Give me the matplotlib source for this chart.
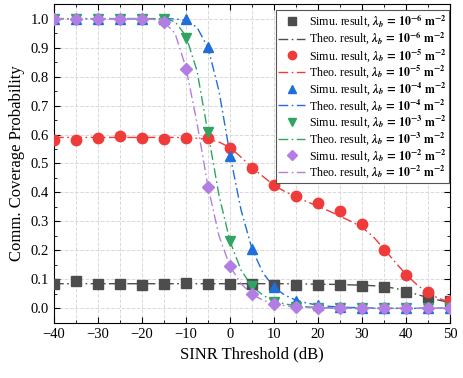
import numpy as np
import matplotlib
matplotlib.use("Agg")
import matplotlib.pyplot as plt
from matplotlib.ticker import MultipleLocator

plt.rcParams['font.family'] = ['Liberation Serif', 'DejaVu Serif']
plt.rcParams['mathtext.fontset'] = 'stix'

# simulation points (every 5 dB)
x_sim = [-40, -35, -30, -25, -20, -15, -10, -5, 0, 5, 10, 15, 20, 25, 30, 35, 40, 45, 50]
sim_e6 = [0.083, 0.093, 0.085, 0.083, 0.080, 0.084, 0.089, 0.084, 0.083, 0.083, 0.082, 0.082,
          0.080, 0.080, 0.077, 0.075, 0.057, 0.038, 0.025]
sim_e5 = [0.582, 0.580, 0.588, 0.595, 0.588, 0.584, 0.589, 0.588, 0.553, 0.486, 0.425, 0.387,
          0.365, 0.335, 0.290, 0.203, 0.115, 0.058, 0.025]
sim_e4 = [1.0, 1.0, 1.0, 1.0, 1.0, 1.0, 0.998, 0.902, 0.527, 0.206, 0.074, 0.025,
          0.012, 0.004, 0.0, 0.0, 0.0, 0.0, 0.0]
sim_e3 = [1.0, 1.0, 1.0, 1.0, 1.0, 1.0, 0.933, 0.609, 0.232, 0.076, 0.022, 0.006,
          0.0, 0.0, 0.0, 0.0, 0.0, 0.0, 0.0]
sim_e2 = [1.0, 1.0, 1.0, 1.0, 1.0, 0.988, 0.827, 0.419, 0.145, 0.048, 0.016, 0.004,
          0.0, 0.0, 0.0, 0.0, 0.0, 0.0, 0.0]

# theoretical curves (every 2.5 dB)
x_theo = [-40, -37.5, -35, -32.5, -30, -27.5, -25, -22.5, -20, -17.5, -15, -12.5, -10, -7.5,
          -5, -2.5, 0, 2.5, 5, 7.5, 10, 12.5, 15, 17.5, 20, 22.5, 25, 27.5, 30, 32.5, 35,
          37.5, 40, 42.5, 45, 47.5, 50]
theo_e6 = [0.085, 0.085, 0.085, 0.085, 0.085, 0.085, 0.085, 0.085, 0.085, 0.085, 0.085, 0.085,
           0.085, 0.085, 0.085, 0.085, 0.085, 0.085, 0.085, 0.085, 0.085, 0.085, 0.084, 0.084,
           0.083, 0.083, 0.082, 0.081, 0.080, 0.078, 0.075, 0.069, 0.060, 0.048, 0.037, 0.028, 0.020]
theo_e5 = [0.590, 0.590, 0.590, 0.590, 0.590, 0.590, 0.590, 0.590, 0.590, 0.590, 0.590, 0.590,
           0.589, 0.587, 0.583, 0.574, 0.555, 0.522, 0.486, 0.455, 0.425, 0.403, 0.385, 0.368,
           0.352, 0.336, 0.318, 0.300, 0.280, 0.248, 0.205, 0.160, 0.117, 0.081, 0.053, 0.034, 0.021]
theo_e4 = [1.0, 1.0, 1.0, 1.0, 1.0, 1.0, 1.0, 1.0, 1.0, 1.0, 1.0, 0.999, 0.994, 0.970,
           0.900, 0.750, 0.530, 0.340, 0.205, 0.122, 0.073, 0.045, 0.028, 0.018, 0.011, 0.007,
           0.004, 0.003, 0.002, 0.001, 0.0, 0.0, 0.0, 0.0, 0.0, 0.0, 0.0]
theo_e3 = [1.0, 1.0, 1.0, 1.0, 1.0, 1.0, 1.0, 1.0, 1.0, 1.0, 0.999, 0.990, 0.940, 0.820,
           0.605, 0.390, 0.232, 0.132, 0.076, 0.045, 0.025, 0.015, 0.009, 0.005, 0.003, 0.002,
           0.001, 0.0, 0.0, 0.0, 0.0, 0.0, 0.0, 0.0, 0.0, 0.0, 0.0]
theo_e2 = [1.0, 1.0, 1.0, 1.0, 1.0, 1.0, 1.0, 1.0, 1.0, 0.998, 0.988, 0.950, 0.830, 0.640,
           0.420, 0.250, 0.145, 0.085, 0.048, 0.028, 0.016, 0.009, 0.005, 0.003, 0.002, 0.001,
           0.0, 0.0, 0.0, 0.0, 0.0, 0.0, 0.0, 0.0, 0.0, 0.0, 0.0]

exps = ['-6', '-5', '-4', '-3', '-2']
colors = ['#4d4d4d', '#f03b3b', '#1f6fdb', '#2fa463', '#b27ee3']
markers = ['s', 'o', '^', 'v', 'D']
msizes = [6.5, 7.5, 7.5, 7.5, 6.5]
sims = [sim_e6, sim_e5, sim_e4, sim_e3, sim_e2]
theos = [theo_e6, theo_e5, theo_e4, theo_e3, theo_e2]

fig = plt.figure(figsize=(4.63, 3.78), dpi=100)
ax = fig.add_axes([0.1166, 0.146, 0.8554, 0.843])

for e, c, m, ms, s, t in zip(exps, colors, markers, msizes, sims, theos):
    lam = r'$\mathbfit{\lambda_b}\mathbf{\,=\,10^{' + e + r'}\ m^{-2}}$'
    ax.plot(x_sim, s, ls='none', marker=m, ms=ms, color=c, label='Simu. result, ' + lam, zorder=3)
    ax.plot(x_theo, t, ls=(0, (7, 2.5, 1.2, 2.5)), lw=1.0, color=c, label='Theo. result, ' + lam, zorder=2)

ax.set_xlim(-40, 50)
ax.set_ylim(-0.05, 1.05)
ax.xaxis.set_major_locator(MultipleLocator(10))
ax.xaxis.set_minor_locator(MultipleLocator(5))
ax.yaxis.set_major_locator(MultipleLocator(0.1))
ax.yaxis.set_minor_locator(MultipleLocator(0.05))
ax.tick_params(which='both', direction='in', top=True, right=True, labelsize=10.5)
ax.tick_params(which='major', length=4)
ax.tick_params(which='minor', length=2.5)
ax.yaxis.set_major_formatter(matplotlib.ticker.FormatStrFormatter('%.1f'))
ax.xaxis.set_major_formatter(matplotlib.ticker.FuncFormatter(lambda v, p: '%d' % v if v >= 0 else '\u2212%d' % -v))
ax.grid(True, which='both', axis='x', ls='--', color='#d9d9d9', lw=0.7)
ax.grid(True, which='major', axis='y', ls='--', color='#d9d9d9', lw=0.7)
ax.set_axisbelow(True)

ax.set_xlabel('SINR Threshold (dB)', fontsize=12)
ax.set_ylabel('Comm. Coverage Probability', fontsize=12)

leg = ax.legend(loc='upper right', bbox_to_anchor=(1.0, 0.985), fontsize=8.6, fancybox=False,
                edgecolor='#555555', framealpha=1, handlelength=2.3, labelspacing=0.0,
                borderpad=0.2, handletextpad=0.3, borderaxespad=0.1, markerscale=0.8)
leg.get_frame().set_linewidth(0.8)

fig.savefig('out.png', dpi=100)
